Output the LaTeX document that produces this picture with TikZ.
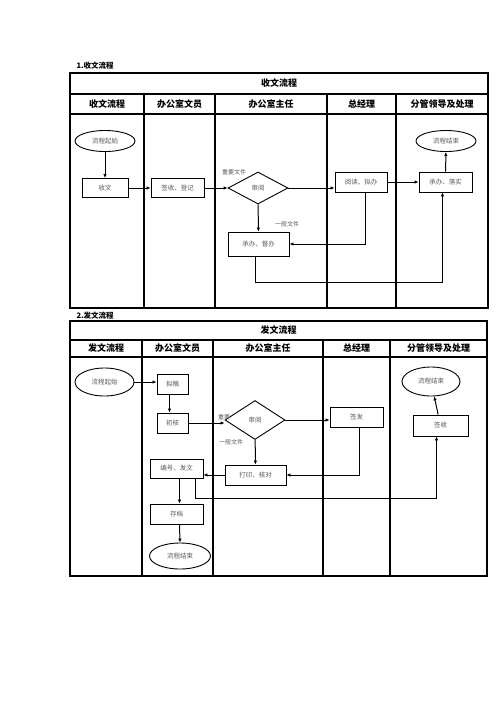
\documentclass[tikz,border=0pt]{standalone}
\usepackage{fontspec}
\usepackage{tikz}
\usetikzlibrary{shapes.geometric, arrows.meta, positioning, calc}
\usepackage{xcolor}
\newfontfamily\cjk{Noto Sans CJK SC}
\definecolor{Ink}{HTML}{000000}
\definecolor{Dim}{HTML}{5A5A5A}

\begin{document}
\begin{tikzpicture}[
            x=1pt, y=-1pt,
            proc/.style={
                rectangle,
                draw=Ink,
                fill=white,
                line width=0.9pt,
                inner sep=0pt,
                font=\cjk\fontsize{6.5}{7}\selectfont,
                text=Dim
            },
            term/.style={
                proc,
                ellipse
            },
            judge/.style={
                proc,
                diamond,
                aspect=1.6
            },
            arrow/.style={-{Latex[length=4pt,width=3.5pt]}, line width=1pt, color=Ink},
            grid/.style={line width=1.1pt, color=Ink},
            head/.style={font=\cjk\bfseries\fontsize{9}{10}\selectfont, text=Ink},
            note/.style={font=\cjk\fontsize{6}{7}\selectfont, color=Dim, inner sep=0pt}
        ]
            \useasboundingbox (0,0) rectangle (496,702);

            % ---------- 1. 收文流程 ----------
            \node[head, anchor=west, font=\cjk\bfseries\fontsize{7.5}{8}\selectfont] (sec1) at (73,66) {1.收文流程};
            \draw[grid] (70,73) rectangle (488,308);
            \draw[grid] (70,94) -- (488,94);
            \draw[grid] (70,114) -- (488,114);
            \foreach \x in {144,215,327,396}
                \draw[grid] (\x,94) -- (\x,308);
            \node[head] (title1) at (279,83.5) {收文流程};
            \node[head] (laneA1) at (107,104) {收文流程};
            \node[head] (laneB1) at (179.5,104) {办公室文员};
            \node[head] (laneC1) at (271,104) {办公室主任};
            \node[head] (laneD1) at (361.5,104) {总经理};
            \node[head] (laneE1) at (442,104) {分管领导及处理};

            \node[term, minimum width=60pt, minimum height=21pt] (start1) at (105,141) {流程起始};
            \node[proc, minimum width=46pt, minimum height=19pt] (recv) at (105,188) {收文};
            \node[proc, minimum width=53pt, minimum height=19pt] (sign) at (177.5,188) {签收、登记};
            \node[judge, minimum width=60pt, minimum height=32pt] (rev1) at (258,188) {审阅};
            \node[proc, minimum width=52pt, minimum height=20pt] (read) at (361,182) {阅读、拟办};
            \node[proc, minimum width=53pt, minimum height=20pt] (impl) at (445.5,182) {承办、落实};
            \node[term, minimum width=60pt, minimum height=21pt] (end1) at (446,141) {流程结束};
            \node[proc, minimum width=61pt, minimum height=24pt] (handle) at (258.5,244) {承办、督办};
            \node[note] (key1) at (234,172) {重要文件};
            \node[note] (gen1) at (287,224) {一般文件};

            % Main forward flow
            \draw[arrow] (start1) -- (recv);
            \draw[arrow] (recv) -- (sign);
            \draw[arrow] (sign) -- (rev1);
            \draw[arrow] (rev1.east) -- (rev1.east -| read.west);
            \draw[arrow] (read) -- (impl);
            \draw[arrow] (rev1) -- (handle);
            \draw[arrow] (impl) -- (end1);

            % Return paths
            \draw[arrow] ($(read.south)+(4,0)$) |- (handle.east);
            \draw[arrow] ($(handle.south)+(-3,0)$) -- ++(0,26) -| ($(impl.south)+(-3,0)$);

            % ---------- 2. 发文流程 ----------
            \node[head, anchor=west, font=\cjk\bfseries\fontsize{7.5}{8}\selectfont] (sec2) at (73,316) {2.发文流程};
            \draw[grid] (70,321) rectangle (487,576);
            \draw[grid] (70,340) -- (487,340);
            \draw[grid] (70,357) -- (487,357);
            \foreach \x in {142,213,323,390}
                \draw[grid] (\x,340) -- (\x,576);
            \node[head] (title2) at (278.5,330.5) {发文流程};
            \node[head] (laneA2) at (106,348.5) {发文流程};
            \node[head] (laneB2) at (177.5,348.5) {办公室文员};
            \node[head] (laneC2) at (268,348.5) {办公室主任};
            \node[head] (laneD2) at (356.5,348.5) {总经理};
            \node[head] (laneE2) at (438.5,348.5) {分管领导及处理};

            \node[term, minimum width=59pt, minimum height=28pt] (start2) at (104.5,382) {流程起始};
            \node[proc, minimum width=31pt, minimum height=20pt] (draft) at (172.5,384) {拟稿};
            \node[proc, minimum width=31pt, minimum height=20pt] (precheck) at (172.5,423) {初核};
            \node[judge, minimum width=60pt, minimum height=39pt] (rev2) at (255,420) {审阅};
            \node[proc, minimum width=53pt, minimum height=20pt] (issue) at (356.5,417) {签发};
            \node[proc, minimum width=61pt, minimum height=20pt] (print) at (255.5,475) {打印、核对};
            \node[proc, minimum width=53pt, minimum height=19pt] (number) at (176.5,468.5) {编号、发文};
            \node[proc, minimum width=53pt, minimum height=20pt] (archive) at (176.5,514) {存档};
            \node[term, minimum width=61pt, minimum height=26pt] (end2a) at (180,556) {流程结束};
            \node[proc, minimum width=55pt, minimum height=21pt] (receipt) at (440.5,425.5) {签收};
            \node[term, minimum width=58pt, minimum height=29pt] (end2b) at (431,381.5) {流程结束};
            \node[note] (key2) at (224,417) {重要};
            \node[note] (gen2) at (231,442) {一般文件};

            % Main forward flow
            \draw[arrow] (start2.east) -- (start2.east -| draft.west);
            \draw[arrow] ($(draft.south)+(-3,0)$) -- ($(precheck.north)+(-3,0)$);
            \draw[arrow] (precheck.east) -- (precheck.east -| rev2.west);
            \draw[arrow] (rev2.east) -- (rev2.east -| issue.west);
            \draw[arrow] (rev2) -- (print);
            \draw[arrow] (print.west) -- (print.west -| number.east);
            \draw[arrow] ($(number.south)+(3,0)$) -- ($(archive.north)+(3,0)$);
            \draw[arrow] ($(archive.south)+(3,0)$) -- (end2a.north);
            \draw[arrow] (receipt) -- (end2b);

            % Return paths
            \draw[arrow] ($(issue.south)+(3,0)$) |- (print.east);
            \draw[arrow] ($(number.south east)+(-8,0)$) -- ++(0,20) -| ($(receipt.south)+(-4,0)$);
        \end{tikzpicture}
\end{document}
